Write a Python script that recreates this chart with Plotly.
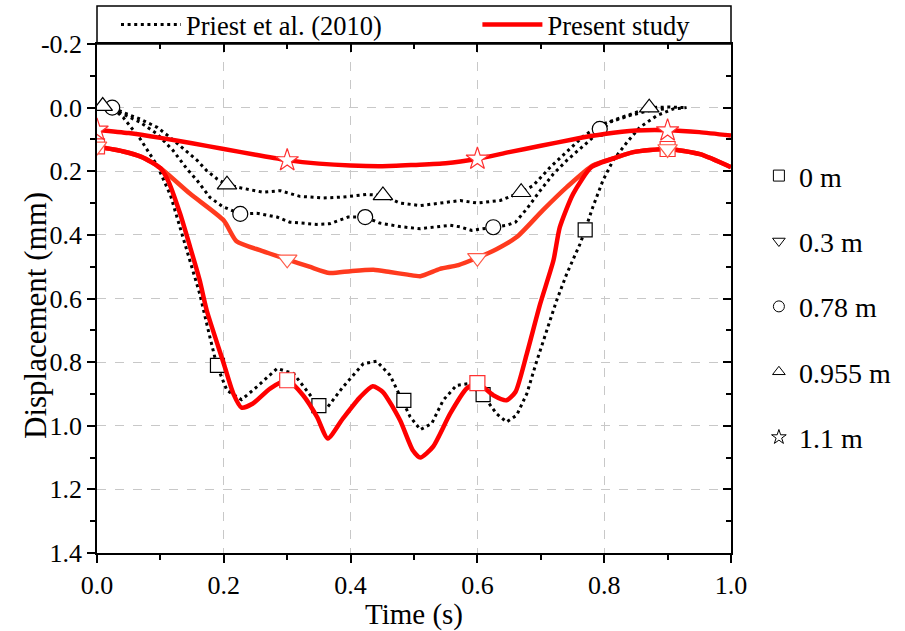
import plotly.graph_objects as go

# ---------------- data ----------------
# Priest et al. (2010) curves
pr0_t = [0.025, 0.041, 0.068, 0.095, 0.116, 0.131, 0.147, 0.162, 0.178, 0.189, 0.205, 0.228, 0.252, 0.284,
         0.31, 0.336, 0.35, 0.362, 0.388, 0.42, 0.441, 0.462, 0.481, 0.494, 0.51, 0.528, 0.546, 0.567, 0.585,
         0.609, 0.63, 0.646, 0.662, 0.678, 0.694, 0.709, 0.725, 0.741, 0.762, 0.77, 0.782, 0.798, 0.814,
         0.836, 0.856, 0.883, 0.909, 0.93]
pr0_d = [0.003, 0.03, 0.098, 0.182, 0.276, 0.376, 0.48, 0.585, 0.721, 0.81, 0.889, 0.918, 0.878, 0.82,
         0.836, 0.904, 0.939, 0.946, 0.878, 0.805, 0.797, 0.841, 0.922, 0.972, 1.012, 0.993, 0.92, 0.873, 0.868,
         0.904, 0.962, 0.988, 0.967, 0.899, 0.794, 0.7, 0.606, 0.522, 0.428, 0.384, 0.313, 0.229, 0.166,
         0.109, 0.062, 0.025, 0.004, 0.0]

pr078_t = [0.025, 0.041, 0.068, 0.095, 0.12, 0.142, 0.158, 0.178, 0.198, 0.226, 0.252, 0.284, 0.304, 0.347,
           0.367, 0.396, 0.423, 0.446, 0.478, 0.51, 0.52, 0.557, 0.573, 0.591, 0.625, 0.646, 0.66, 0.678,
           0.699, 0.72, 0.741, 0.767, 0.793, 0.81, 0.84, 0.87, 0.9]
pr078_d = [0.005, 0.02, 0.046, 0.083, 0.135, 0.193, 0.229, 0.282, 0.311, 0.334, 0.332, 0.344, 0.36, 0.367,
           0.365, 0.344, 0.344, 0.363, 0.374, 0.381, 0.378, 0.37, 0.375, 0.386, 0.376, 0.37, 0.36, 0.318,
           0.261, 0.208, 0.166, 0.12, 0.072, 0.045, 0.025, 0.01, 0.003]

pr0955_t = [0.025, 0.041, 0.068, 0.095, 0.115, 0.136, 0.158, 0.173, 0.19, 0.205, 0.226, 0.262, 0.289, 0.32,
            0.357, 0.388, 0.425, 0.451, 0.478, 0.51, 0.541, 0.573, 0.6, 0.636, 0.669, 0.688, 0.715, 0.741,
            0.767, 0.793, 0.82, 0.846, 0.871, 0.9, 0.93]
pr0955_d = [0.0, 0.015, 0.036, 0.062, 0.093, 0.13, 0.166, 0.198, 0.225, 0.242, 0.252, 0.266, 0.261, 0.279,
            0.284, 0.281, 0.273, 0.276, 0.3, 0.308, 0.3, 0.292, 0.3, 0.292, 0.266, 0.245, 0.187, 0.14,
            0.09, 0.055, 0.036, 0.02, 0.0, -0.002, 0.0]

# Priest markers
prm0_t = [0.19, 0.35, 0.484, 0.609, 0.77]
prm0_d = [0.81, 0.937, 0.92, 0.902, 0.384]
prm078_t = [0.024, 0.226, 0.423, 0.625, 0.793]
prm078_d = [0.0, 0.334, 0.344, 0.376, 0.067]
prm0955_t = [0.009, 0.205, 0.451, 0.669, 0.871]
prm0955_d = [-0.005, 0.242, 0.276, 0.266, 0.0]

# Present study curves
ps0_t = [0.0, 0.04, 0.07, 0.1, 0.112, 0.131, 0.147, 0.162, 0.173, 0.2, 0.215, 0.228, 0.246, 0.273, 0.3,
         0.325, 0.347, 0.364, 0.388, 0.415, 0.435, 0.451, 0.478, 0.498, 0.51, 0.53, 0.557, 0.583, 0.6,
         0.625, 0.646, 0.66, 0.678, 0.699, 0.72, 0.73, 0.751, 0.78, 0.82, 0.846, 0.9, 0.951, 1.0]
ps0_d = [0.122, 0.137, 0.155, 0.19, 0.229, 0.333, 0.439, 0.543, 0.637, 0.805, 0.899, 0.943, 0.93, 0.883,
         0.857, 0.904, 0.972, 1.04, 0.977, 0.91, 0.876, 0.894, 0.983, 1.077, 1.1, 1.066, 0.962, 0.883,
         0.866, 0.904, 0.92, 0.894, 0.773, 0.617, 0.48, 0.376, 0.271, 0.187, 0.156, 0.14, 0.13, 0.146, 0.187]

ps03_t = [0.0, 0.04, 0.07, 0.1, 0.147, 0.2, 0.22, 0.26, 0.3, 0.335, 0.367, 0.4, 0.436, 0.462, 0.49, 0.51,
          0.541, 0.57, 0.6, 0.63, 0.662, 0.703, 0.741, 0.782, 0.82, 0.846, 0.9, 0.951, 1.0]
ps03_d = [0.122, 0.137, 0.155, 0.19, 0.271, 0.355, 0.42, 0.45, 0.477, 0.5, 0.52, 0.514, 0.51, 0.517, 0.525,
          0.53, 0.507, 0.495, 0.472, 0.445, 0.407, 0.323, 0.25, 0.182, 0.156, 0.14, 0.13, 0.146, 0.187]

ps11_t = [0.0, 0.05, 0.1, 0.15, 0.2, 0.25, 0.3, 0.35, 0.4, 0.45, 0.5, 0.55, 0.6, 0.65, 0.7, 0.75, 0.8,
          0.85, 0.9, 0.95, 1.0]
ps11_d = [0.07, 0.08, 0.095, 0.112, 0.13, 0.148, 0.165, 0.176, 0.182, 0.184, 0.18, 0.175, 0.161, 0.14,
          0.12, 0.1, 0.083, 0.072, 0.071, 0.077, 0.088]

# Present study markers
psm_t = [0.0, 0.3, 0.6, 0.9]
psm0_d = [0.122, 0.857, 0.866, 0.13]
psm03_d = [0.122, 0.477, 0.472, 0.13]
psm11_d = [0.07, 0.166, 0.161, 0.072]

# legend labels / ticks
loc_labels = ["0 m", "0.3 m", "0.78 m", "0.955 m", "1.1 m"]
loc_symbols = ["square-open", "triangle-down-open", "circle-open", "triangle-up-open", "star-open"]
x_ticks = [0.0, 0.2, 0.4, 0.6, 0.8, 1.0]
x_ticktext = ["0.0", "0.2", "0.4", "0.6", "0.8", "1.0"]
y_ticks = [-0.2, 0.0, 0.2, 0.4, 0.6, 0.8, 1.0, 1.2, 1.4]
y_ticktext = ["-0.2", "0.0", "0.2", "0.4", "0.6", "0.8", "1.0", "1.2", "1.4"]

# ---------------- style ----------------
FONT = "Liberation Serif"
RED = "#FF0000"
ORANGE = "#FF3A1E"
DOT = "3px,3.6px"

fig = go.Figure()

# Priest dotted curves
for i, (t, d) in enumerate([(pr0_t, pr0_d), (pr078_t, pr078_d), (pr0955_t, pr0955_d)]):
    fig.add_trace(go.Scatter(x=t, y=d, mode="lines", line=dict(color="black", width=3, dash=DOT),
                             name="Priest et al. (2010)", showlegend=(i == 0), legend="legend",
                             legendgroup="priest"))

# Priest markers (white filled)
for t, d, s, sz in [(prm0_t, prm0_d, "square", 14), (prm078_t, prm078_d, "circle", 15),
                    (prm0955_t, prm0955_d, "triangle-up", 17)]:
    fig.add_trace(go.Scatter(x=t, y=d, mode="markers", showlegend=False,
                             marker=dict(symbol=s, size=sz, color="white", line=dict(width=1.2, color="black"))))

# Present study curves
fig.add_trace(go.Scatter(x=ps03_t, y=ps03_d, mode="lines",
                         line=dict(color=ORANGE, width=4.5, shape="spline", smoothing=0.6),
                         showlegend=False))
fig.add_trace(go.Scatter(x=ps0_t, y=ps0_d, mode="lines",
                         line=dict(color=RED, width=4.5, shape="spline", smoothing=0.6),
                         name="Present study", showlegend=True, legend="legend3", legendgroup="present"))
fig.add_trace(go.Scatter(x=ps11_t, y=ps11_d, mode="lines",
                         line=dict(color=RED, width=4.5, shape="spline", smoothing=0.6),
                         showlegend=False))

# Present study markers
for d, s, c, sz in [(psm0_d, "square", "#FF3030", 15), (psm03_d, "triangle-down", "#FF5A48", 17),
                    (psm11_d, "star", "#FF3030", 17)]:
    fig.add_trace(go.Scatter(x=psm_t, y=d, mode="markers", showlegend=False,
                             marker=dict(symbol=s, size=sz, color="white", line=dict(width=1.2, color=c))))

# location legend (legend2)
for i, (lab, sym) in enumerate(zip(loc_labels, loc_symbols)):
    fig.add_trace(go.Scatter(x=[None], y=[None], mode="markers", name=lab, legend="legend2",
                             legendgroup="loc%d" % i,
                             marker=dict(symbol=sym, size=11, color="black", line=dict(width=1))))

# dummy trace for the mirrored (inside-tick) axes
fig.add_trace(go.Scatter(x=[None], y=[None], xaxis="x2", yaxis="y2", showlegend=False, hoverinfo="skip"))

axis_common = dict(showline=True, linecolor="black", linewidth=1.5, mirror=True, zeroline=False,
                   ticks="outside", ticklen=8, tickwidth=1.5, tickcolor="black",
                   tickfont=dict(family=FONT, size=26, color="black"),
                   showgrid=True, gridcolor="#C8C8C8", griddash="dash", gridwidth=1)

top_legend = dict(orientation="h", xanchor="left", y=1.038, yanchor="middle",
                  bgcolor="rgba(0,0,0,0)", borderwidth=0, font=dict(family=FONT, size=26.5),
                  itemwidth=60)

fig.update_layout(
    width=905, height=631,
    margin=dict(l=97, r=174, t=44, b=78, autoexpand=False),
    paper_bgcolor="white", plot_bgcolor="white",
    font=dict(family=FONT, size=26, color="black"),
    xaxis=dict(range=[0, 1], tickvals=x_ticks, ticktext=x_ticktext,
               minor=dict(ticks="outside", ticklen=5, tickwidth=1.5, tickcolor="black", dtick=0.1, tick0=0,
                          showgrid=False),
               title=dict(text="Time (s)", font=dict(family=FONT, size=29), standoff=4),
               **axis_common),
    yaxis=dict(range=[1.4, -0.2], tickvals=y_ticks, ticktext=y_ticktext,
               minor=dict(ticks="outside", ticklen=5, tickwidth=1.5, tickcolor="black", dtick=0.1, tick0=0,
                          showgrid=False),
               **axis_common),
    xaxis2=dict(overlaying="x", anchor="y", side="top", range=[0, 1], dtick=0.2, tick0=0,
                ticks="inside", ticklen=8, tickwidth=1.5, tickcolor="black", showticklabels=False,
                minor=dict(ticks="inside", ticklen=5, tickwidth=1.5, tickcolor="black", dtick=0.1, tick0=0),
                showgrid=False, zeroline=False, showline=False),
    yaxis2=dict(overlaying="y", anchor="x", side="right", range=[1.4, -0.2], dtick=0.2, tick0=0,
                ticks="inside", ticklen=8, tickwidth=1.5, tickcolor="black", showticklabels=False,
                minor=dict(ticks="inside", ticklen=5, tickwidth=1.5, tickcolor="black", dtick=0.1, tick0=0),
                showgrid=False, zeroline=False, showline=False),
    legend=dict(x=0.03, **top_legend),
    legend3=dict(x=0.60, **top_legend),
    legend2=dict(orientation="v", x=1.044, xanchor="left", y=0.79, yanchor="top",
                 bgcolor="rgba(0,0,0,0)", borderwidth=0, font=dict(family=FONT, size=28),
                 tracegroupgap=26, itemwidth=30),
    annotations=[dict(text="Displacement (mm)", xref="paper", yref="paper", x=(35 - 97) / 634,
                      y=(553 - 316) / 509,
                      textangle=-90, showarrow=False, xanchor="center", yanchor="middle",
                      font=dict(family=FONT, size=31, color="black"))],
    shapes=[dict(type="rect", xref="paper", yref="paper", x0=0, x1=1, y0=1, y1=(553 - 6) / 509,
                 line=dict(color="black", width=1.5), fillcolor="rgba(0,0,0,0)")],
)

fig.write_html("out.html")
